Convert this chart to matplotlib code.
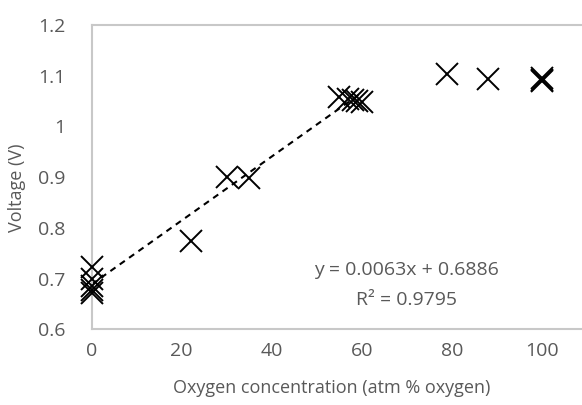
import matplotlib
matplotlib.use("Agg")
import matplotlib.pyplot as plt

# Data
oxygen = [0, 0, 0, 0, 0, 22, 30, 35, 55, 57, 58, 59, 60, 79, 88, 100, 100, 100]
voltage = [0.722, 0.700, 0.685, 0.678, 0.672, 0.775, 0.901, 0.898,
           1.058, 1.055, 1.052, 1.050, 1.048, 1.104, 1.093, 1.096, 1.092, 1.089]

slope = 0.0063
intercept = 0.6886
trend_x = [0, 60]
eq_text = "y = 0.0063x + 0.6886"
r2_text = "R² = 0.9795"

xticks = [0, 20, 40, 60, 80, 100]
yticks = [0.6, 0.7, 0.8, 0.9, 1.0, 1.1, 1.2]
ytick_labels = ["0.6", "0.7", "0.8", "0.9", "1", "1.1", "1.2"]

plt.rcParams['font.family'] = ['Open Sans', 'DejaVu Sans']
grey = '#595959'
fs = 14

fig = plt.figure(figsize=(5.82, 4.05), dpi=100)
W, H = 582, 405
left_px, top_px, bottom_px = 91.7, 25, 329.3
px_per_unit = 4.5
xmax = 120
ax = fig.add_axes([left_px / W, (H - bottom_px) / H,
                   xmax * px_per_unit / W, (bottom_px - top_px) / H])

ax.plot(trend_x, [slope * x + intercept for x in trend_x], color='black',
        linestyle=(0, (3, 2.5)), linewidth=1.5, zorder=2)
ax.plot(oxygen, voltage, linestyle='none', marker='x', markersize=15.5,
        markeredgewidth=1.4, color='black', zorder=3, clip_on=False)

ax.set_xlim(0, xmax)
ax.set_ylim(0.6, 1.2)
ax.set_xticks(xticks)
ax.set_yticks(yticks)
ax.set_yticklabels(ytick_labels)
ax.tick_params(length=0, labelsize=fs, colors=grey)
ax.tick_params(axis='x', pad=9)
ax.tick_params(axis='y', pad=19)

for s in ax.spines.values():
    s.set_color('#c8c8c8')
    s.set_linewidth(1.5)

fig.text(406 / W, 1 - 270 / H, eq_text, ha='center', va='center', fontsize=fs, color=grey)
fig.text(406 / W, 1 - 300 / H, r2_text, ha='center', va='center', fontsize=fs, color=grey)

fig.text(332 / W, 1 - 388 / H, "Oxygen concentration (atm % oxygen)", ha='center',
         va='center', fontsize=13, color=grey)
fig.text(17 / W, 1 - 188 / H, "Voltage (V)", ha='center', va='center', rotation=90,
         fontsize=13, color=grey)

fig.savefig("out.png", dpi=100)
